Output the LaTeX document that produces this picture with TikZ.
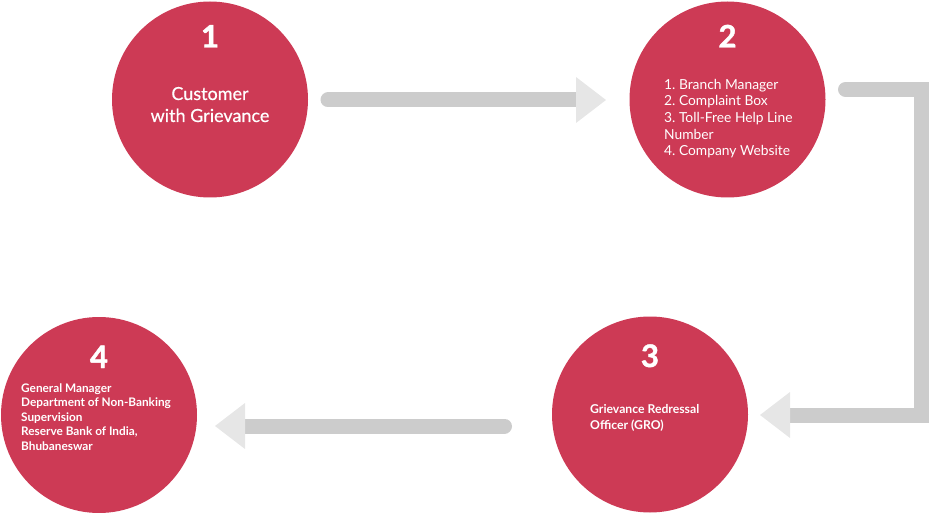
\documentclass[tikz,border=0pt]{standalone}
\usepackage{fontspec}
\setmainfont{Lato}
\newfontfamily\numfont{Lato}[BoldFeatures={FakeBold=1.5}]
\newfontfamily\midfont{Lato}[FakeBold=0.5]
\usetikzlibrary{arrows.meta, positioning}
\definecolor{stagered}{HTML}{CD3A55}
\definecolor{bargray}{HTML}{CCCCCC}
\definecolor{tipgray}{HTML}{E6E6E6}
\frenchspacing

\begin{document}
\begin{tikzpicture}[x=1pt, y=-1pt,
    stage/.style={circle, fill=stagered, minimum size=196pt, inner sep=0pt},
    num/.style={text=white, font=\numfont\fontsize{31}{31}\selectfont\bfseries, anchor=base, inner sep=0pt},
    info/.style={text=white, align=left, anchor=base west, inner sep=0pt},
    flow/.style={line width=15pt, bargray, line cap=round, -{Triangle[length=30pt, width=46pt, line width=0pt, color=tipgray]}}
]
\useasboundingbox (0,0) rectangle (929,513);

% circles
\node[stage] (c1) at (210,99.5) {};
\node[stage] (c2) at (727.5,99.5) {};
\node[stage] (c3) at (650,414.5) {};
\node[stage] (c4) at (99,415) {};

% step numbers
\node[num] (n1) at ([yshift=52pt]c1.center) {1};
\node[num] (n2) at ([yshift=52pt]c2.center) {2};
\node[num] (n3) at ([yshift=47.5pt]c3.center) {3};
\node[num] (n4) at ([yshift=47pt]c4.center) {4};

% texts (base = last line)
\node[info, align=center, anchor=base, font=\midfont\fontsize{18}{22}\selectfont] (t1) at (210,122) {Customer\\with Grievance};
\node[info, font=\fontsize{13.8}{16.7}\selectfont] (t2) at (664,156) {1. Branch Manager\\2. Complaint Box\\3. Toll-Free Help Line\\Number\\4. Company Website};
\node[info, font=\fontsize{12.2}{16}\selectfont\bfseries] (t3) at (590,429) {Grievance Redressal\\Officer (GRO)};
\node[info, font=\fontsize{11.8}{14.6}\selectfont\bfseries] (t4) at (21,450.5) {General Manager\\Department of Non-Banking\\Supervision\\Reserve Bank of India,\\Bhubaneswar};

% arrows
\coordinate (a1s) at (328,100);
\coordinate (a1e) at (606,100);
\coordinate (a2s) at (845.5,89.5);
\coordinate (a2e) at (760,415);
\coordinate (a3s) at (504.5,426);
\coordinate (a3e) at (215,426);
\draw[flow] (a1s) -- (a1e);
\draw[flow] (a2s) -- ++(75.5,0) |- (a2e);
\draw[flow] (a3s) -- (a3e);
\end{tikzpicture}
\end{document}
